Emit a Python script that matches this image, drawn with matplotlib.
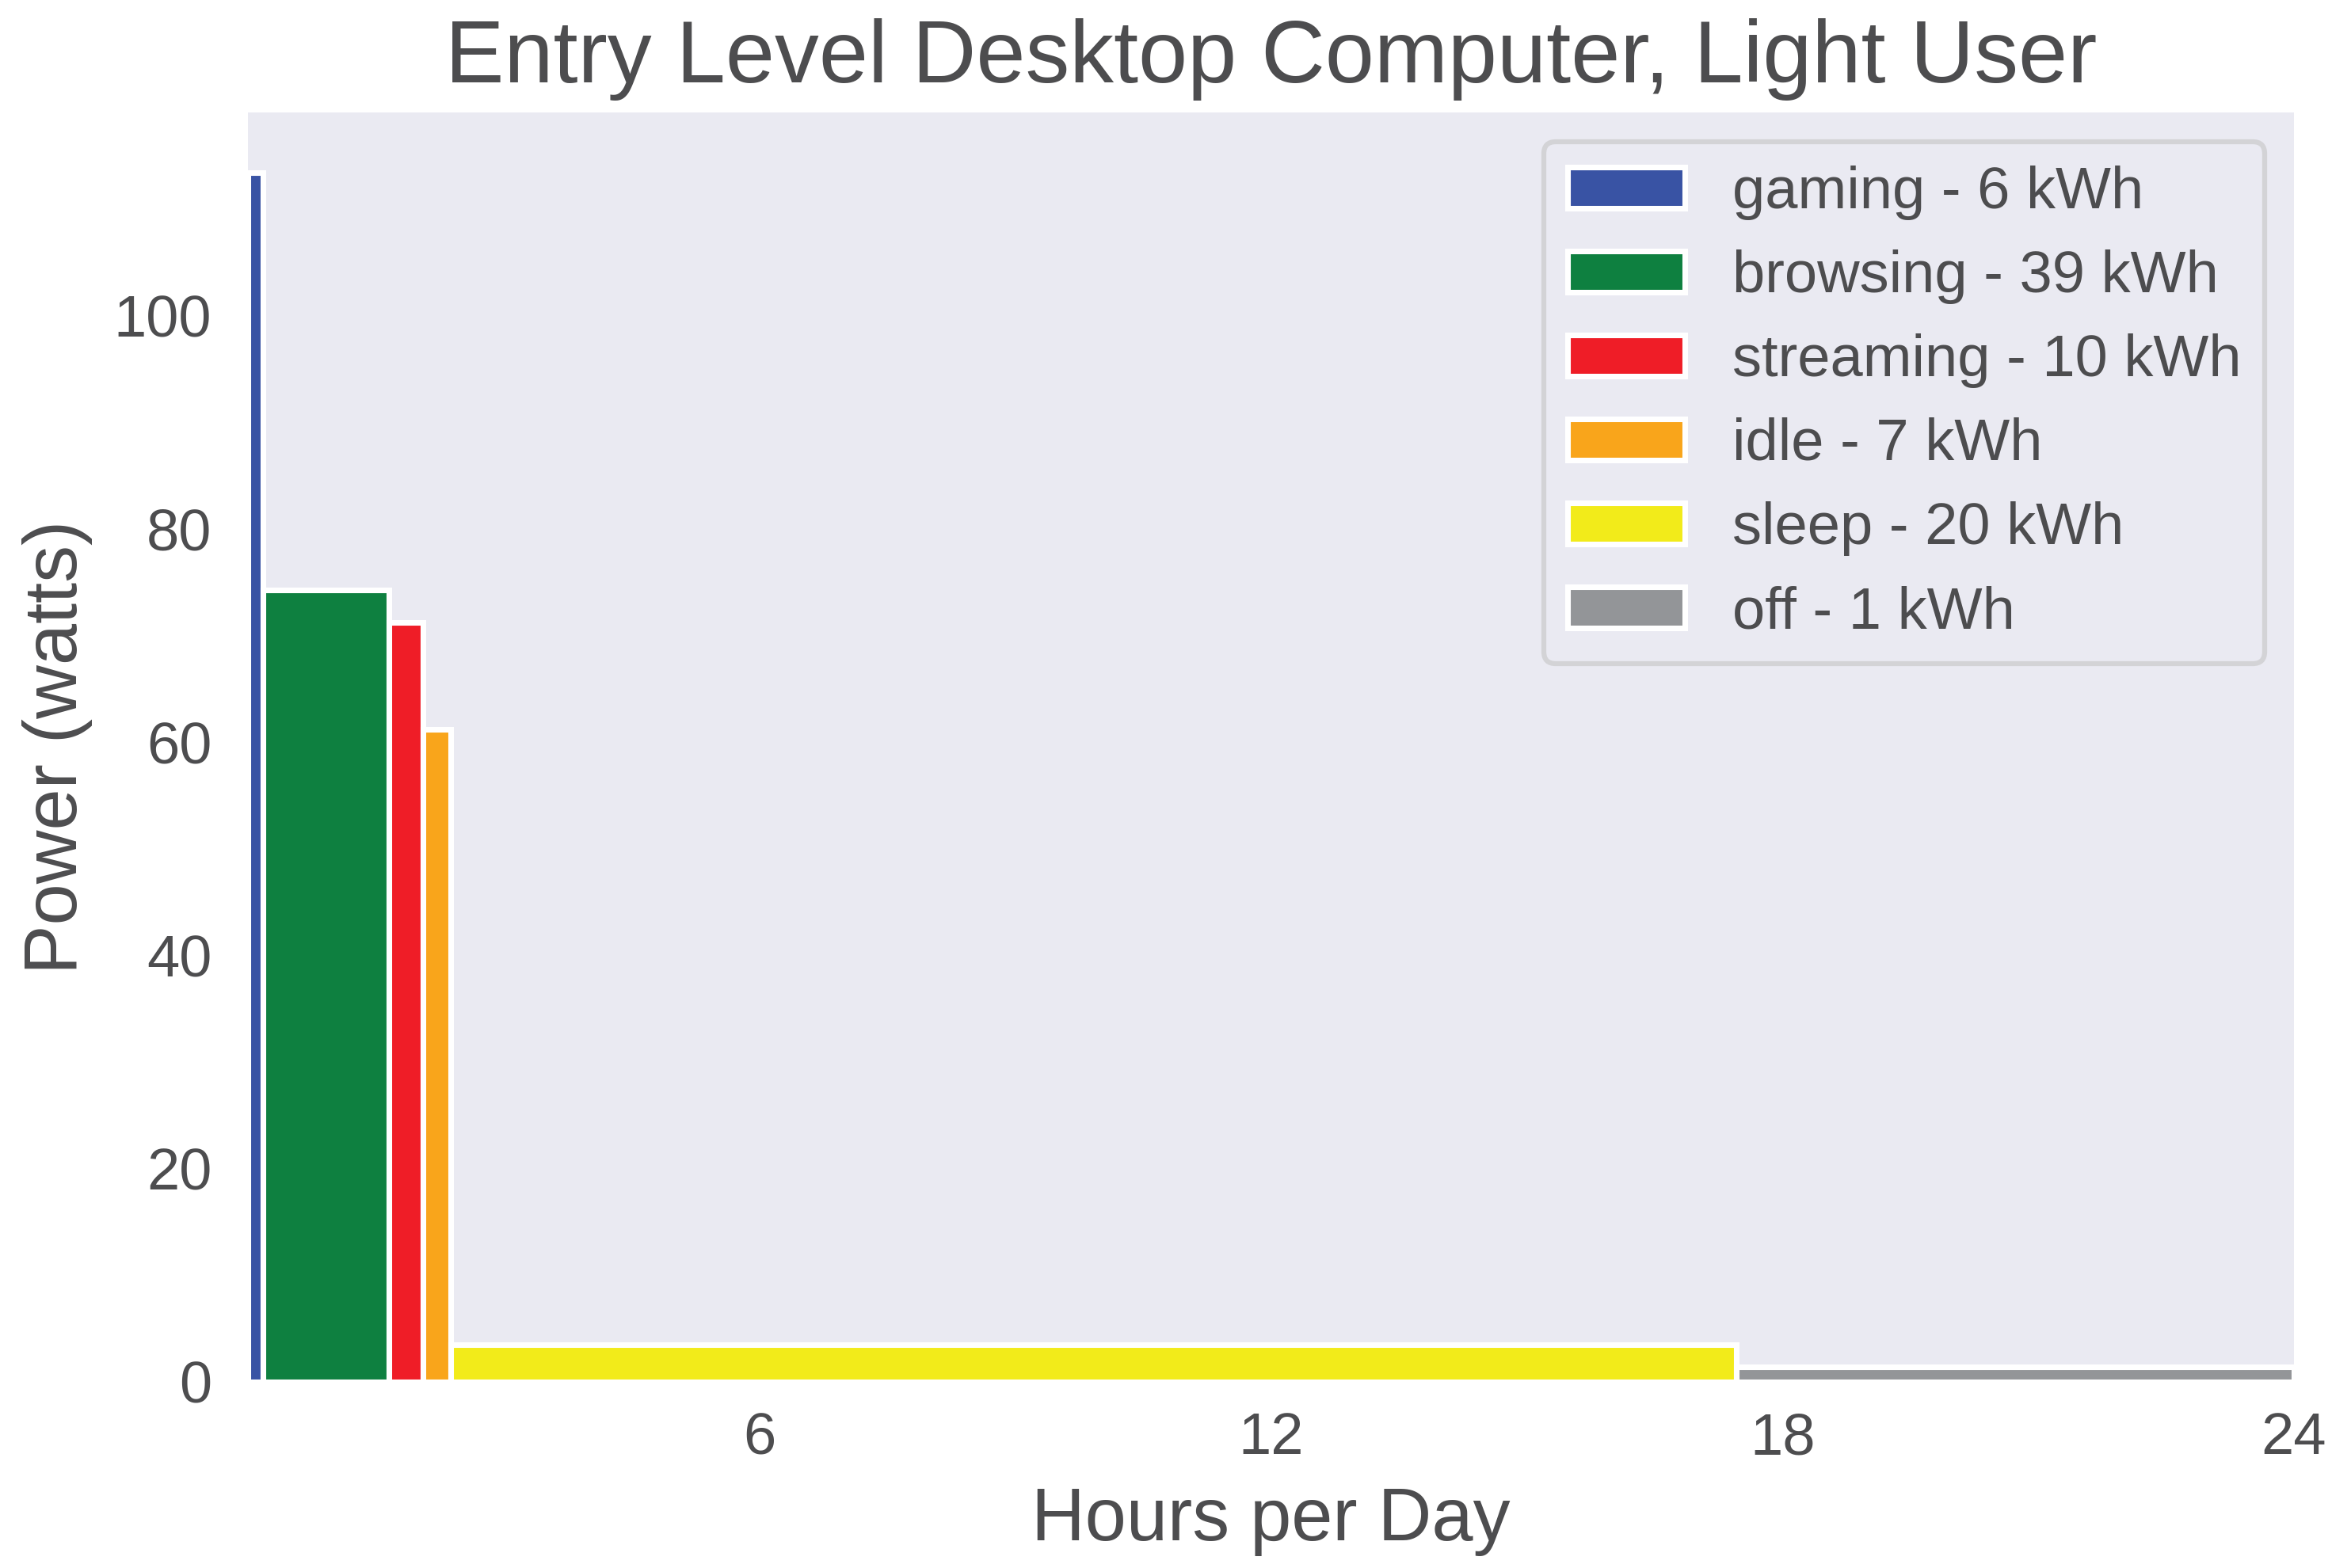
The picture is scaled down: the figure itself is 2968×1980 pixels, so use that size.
import numpy as np
import matplotlib
matplotlib.use("Agg")
import matplotlib.pyplot as plt

# usage profile: hours per day in each state and power drawn
states = ["gaming", "browsing", "streaming", "idle", "sleep", "off"]
hours = [0.18, 1.47, 0.40, 0.33, 15.08, 6.54]
watts = [113.4, 74.3, 71.2, 61.2, 3.5, 1.4]
kwh = [6, 39, 10, 7, 20, 1]
colors = ['#3953A4', '#0E8040', '#EF1D27', '#F9A51B', '#F2EB1A', '#939598']

text_col = '#4D4D4F'
plt.rcParams['font.family'] = ['Liberation Sans', 'DejaVu Sans']
plt.rcParams['text.color'] = text_col
plt.rcParams['axes.labelcolor'] = text_col
plt.rcParams['xtick.color'] = text_col
plt.rcParams['ytick.color'] = text_col

lefts = np.concatenate([[0], np.cumsum(hours)[:-1]])

fig = plt.figure(figsize=(2968 / 300, 1980 / 300), dpi=300)
ax = fig.add_axes([0.1055, 0.1187, 0.9757 - 0.1055, 0.9283 - 0.1187])
ax.set_facecolor('#EAEAF2')
for s in ax.spines.values():
    s.set_visible(False)

for i in range(len(states)):
    ax.bar(lefts[i], watts[i], width=hours[i], align='edge', color=colors[i],
           edgecolor='white', linewidth=1.7,
           label=f"{states[i]} - {kwh[i]} kWh")

ax.set_xlim(0, 24)
ax.set_xticks([6, 12, 18, 24])
ax.set_yticks([0, 20, 40, 60, 80, 100])
ax.tick_params(axis='x', length=0, pad=9, labelsize=17.8)
ax.tick_params(axis='y', length=0, pad=11, labelsize=17.8)
ax.grid(False)

ax.set_xlabel("Hours per Day", fontsize=22.5, labelpad=6)
ax.set_ylabel("Power (watts)", fontsize=22.5, labelpad=6.5)
ax.set_title("Entry Level Desktop Computer, Light User", fontsize=26.8, pad=9)

leg = ax.legend(loc='upper right', fontsize=17.8, facecolor='#EAEAF2',
                edgecolor='#D3D3D6', framealpha=1, fancybox=True)
leg.get_frame().set_linewidth(1.5)

fig.savefig("out.png", dpi=300)
